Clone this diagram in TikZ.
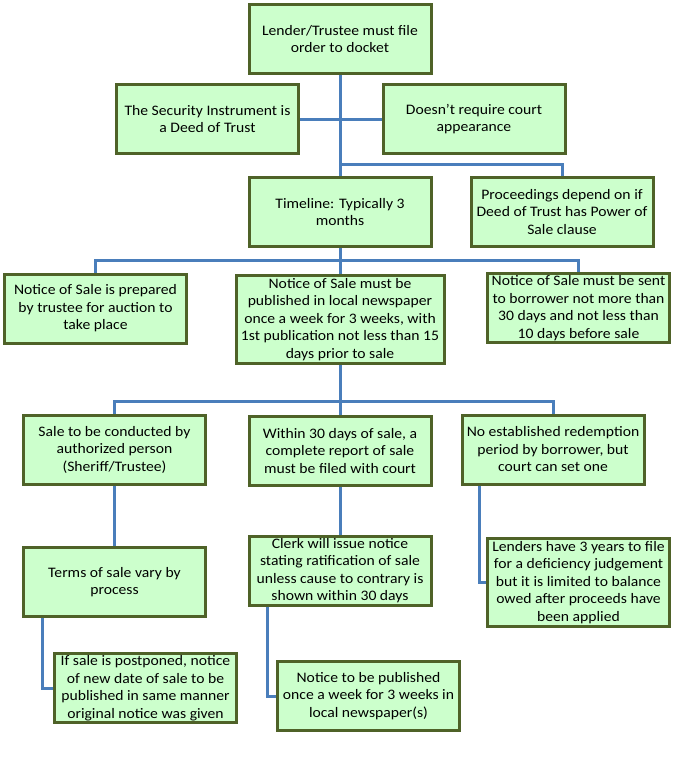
\documentclass[tikz,border=0pt]{standalone}
\usepackage{fontspec}
\setmainfont{Carlito}[FakeStretch=1.08]
\definecolor{boxfill}{HTML}{CCFFCC}
\definecolor{boxline}{HTML}{4F6228}
\definecolor{linkblue}{HTML}{4A7EBB}
\begin{document}
\begin{tikzpicture}[x=1pt,y=-1pt,
  box/.style={draw=boxline, fill=boxfill, line width=3pt, align=center,
    inner sep=1pt, font=\fontsize{14.5}{17.5}\selectfont},
  w184/.style={minimum width=182pt, minimum height=69pt},
  link/.style={draw=linkblue, line width=3pt}]
\useasboundingbox (0,0) rectangle (681,777);
\fill[white] (0,0) rectangle (681,777);
% row 1-2
\node[box,w184] (lender) at (340,39) {Lender/Trustee must file\\order to docket};
\node[box,w184] (security) at (207.5,119) {The Security Instrument is\\a Deed of Trust};
\node[box,w184] (doesnt) at (474,119) {Doesn’t require court\\appearance};
\node[box,w184] (timeline) at (340,212) {Timeline: Typically 3\\months};
\node[box,w184] (proc) at (562,212) {Proceedings depend on if\\Deed of Trust has Power of\\Sale clause};
% row 3
\node[box,w184] (prep) at (95.5,308.5) {Notice of Sale is prepared\\by trustee for auction to\\take place};
\node[box,minimum width=208pt,minimum height=88pt] (pub) at (340,319.5) {Notice of Sale must be\\published in local newspaper\\once a week for 3 weeks, with\\1st publication not less than 15\\days prior to sale};
\node[box,w184] (sent) at (578.5,308) {Notice of Sale must be sent\\to borrower not more than\\30 days and not less than\\10 days before sale};
% row 4
\node[box,w184] (conducted) at (114.5,449.5) {Sale to be conducted by\\authorized person\\(Sheriff/Trustee)};
\node[box,w184] (within) at (340,451) {Within 30 days of sale, a\\complete report of sale\\must be filed with court};
\node[box,w184] (noest) at (553,449.5) {No established redemption\\period by borrower, but\\court can set one};
% row 5
\node[box,w184] (terms) at (114.5,582) {Terms of sale vary by\\process};
\node[box,w184] (clerk) at (340,570.5) {Clerk will issue notice\\stating ratification of sale\\unless cause to contrary is\\shown within 30 days};
\node[box,minimum width=182pt,minimum height=88pt] (lenders) at (578.5,582.5) {Lenders have 3 years to file\\for a deficiency judgement\\but it is limited to balance\\owed after proceeds have\\been applied};
% row 6
\node[box,w184] (postponed) at (145.5,688) {If sale is postponed, notice\\of new date of sale to be\\published in same manner\\original notice was given};
\node[box,w184] (noticepub) at (368.5,696) {Notice to be published\\once a week for 3 weeks in\\local newspaper(s)};
% junctions
\coordinate (j1) at (340,164);
\coordinate (j2) at (340,260);
\coordinate (j3) at (340,401);
% connectors
\draw[link] (lender.south) -- (timeline.north);
\draw[link] (security.east) -- (doesnt.west);
\draw[link] (j1) -| (proc.north);
\draw[link] (timeline.south) -- (pub.north);
\draw[link] (prep.north) |- (j2) -| (sent.north);
\draw[link] (pub.south) -- (within.north);
\draw[link] (conducted.north) |- (j3) -| (noest.north);
\draw[link] (conducted.south) -- (terms.north);
\draw[link] (within.south) -- (clerk.north);
\draw[link] ([xshift=20pt]terms.south west) |- (postponed.west);
\draw[link] ([xshift=20pt]clerk.south west) |- (noticepub.west);
\draw[link] ([xshift=19pt]noest.south west) |- (lenders.west);
\end{tikzpicture}
\end{document}
